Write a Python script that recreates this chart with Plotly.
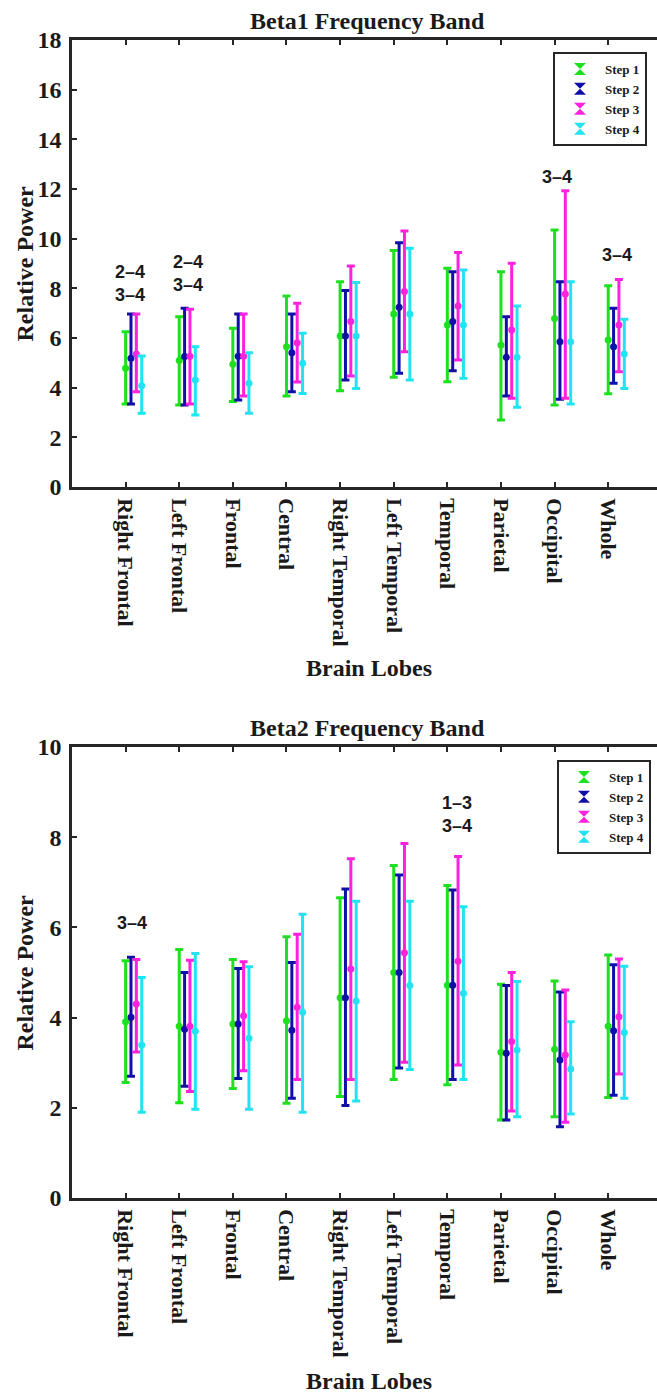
import plotly.graph_objects as go

categories = ["Right Frontal", "Left Frontal", "Frontal", "Central", "Right Temporal",
              "Left Temporal", "Temporal", "Parietal", "Occipital", "Whole"]
steps = ["Step 1", "Step 2", "Step 3", "Step 4"]

# ---- Beta1 band: mean, upper end, lower end of each error bar ----
b1_mean_s1 = [4.78, 5.09, 4.94, 5.65, 6.08, 6.97, 6.52, 5.72, 6.79, 5.92]
b1_hi_s1 = [6.25, 6.86, 6.39, 7.69, 8.27, 9.52, 8.81, 8.67, 10.35, 8.10]
b1_lo_s1 = [3.34, 3.30, 3.44, 3.66, 3.88, 4.42, 4.24, 2.70, 3.30, 3.75]

b1_mean_s2 = [5.18, 5.25, 5.27, 5.41, 6.08, 7.24, 6.66, 5.22, 5.85, 5.65]
b1_hi_s2 = [6.97, 7.20, 6.97, 6.97, 7.91, 9.84, 8.67, 6.86, 8.27, 7.20]
b1_lo_s2 = [3.34, 3.30, 3.50, 3.84, 4.31, 4.58, 4.68, 3.66, 3.53, 4.18]

b1_mean_s3 = [5.36, 5.27, 5.27, 5.81, 6.66, 7.87, 7.29, 6.32, 7.77, 6.52]
b1_hi_s3 = [6.97, 7.16, 6.97, 7.40, 8.90, 10.31, 9.44, 9.01, 11.93, 8.36]
b1_lo_s3 = [3.84, 3.34, 3.66, 4.23, 4.47, 5.45, 5.11, 3.57, 3.57, 4.64]

b1_mean_s4 = [4.08, 4.31, 4.18, 4.98, 6.08, 6.97, 6.52, 5.22, 5.85, 5.36]
b1_hi_s4 = [5.28, 5.65, 5.41, 6.19, 8.23, 9.61, 8.74, 7.29, 8.27, 6.75]
b1_lo_s4 = [2.97, 2.90, 2.97, 3.77, 3.97, 4.31, 4.38, 3.21, 3.34, 3.97]

# ---- Beta2 band ----
b2_mean_s1 = [3.91, 3.81, 3.86, 3.93, 4.44, 5.00, 4.72, 3.23, 3.30, 3.81]
b2_hi_s1 = [5.26, 5.51, 5.29, 5.79, 6.66, 7.37, 6.93, 4.74, 4.81, 5.39]
b2_lo_s1 = [2.56, 2.11, 2.43, 2.10, 2.25, 2.63, 2.51, 1.73, 1.80, 2.23]

b2_mean_s2 = [4.01, 3.74, 3.86, 3.72, 4.44, 5.00, 4.72, 3.21, 3.06, 3.71]
b2_hi_s2 = [5.34, 5.00, 5.09, 5.22, 6.85, 7.16, 6.83, 4.71, 4.57, 5.17]
b2_lo_s2 = [2.70, 2.48, 2.65, 2.21, 2.05, 2.88, 2.63, 1.73, 1.58, 2.28]

b2_mean_s3 = [4.30, 3.81, 4.04, 4.23, 5.08, 5.44, 5.25, 3.47, 3.17, 4.02]
b2_hi_s3 = [5.29, 5.27, 5.24, 5.85, 7.52, 7.86, 7.57, 5.00, 4.61, 5.30]
b2_lo_s3 = [3.24, 2.36, 2.82, 2.63, 2.63, 3.01, 2.95, 1.93, 1.68, 2.75]

b2_mean_s4 = [3.39, 3.70, 3.54, 4.12, 4.37, 4.71, 4.54, 3.28, 2.86, 3.67]
b2_hi_s4 = [4.89, 5.42, 5.13, 6.29, 6.58, 6.58, 6.46, 4.80, 3.91, 5.14]
b2_lo_s4 = [1.90, 1.97, 1.97, 1.90, 2.15, 2.85, 2.63, 1.80, 1.86, 2.21]

# significance labels (text, x in category units, y in relative power)
b1_sig_text = ["2–4<br>3–4", "2–4<br>3–4", "3–4", "3–4"]
b1_sig_x = [1.08, 2.16, 9.05, 10.17]
b1_sig_y = [8.18, 8.60, 12.48, 9.34]
b2_sig_text = ["3–4", "1–3<br>3–4"]
b2_sig_x = [1.11, 7.18]
b2_sig_y = [6.10, 8.50]

# ---- styling ----
colors = ["#1fe01f", "#1010a8", "#ff22dd", "#22e4f0"]
offsets = [0.0, 0.1, 0.2, 0.3]
SERIF = "Liberation Serif"
SANS = "Liberation Sans"
AX = "#262626"

W, H, ML = 657, 1396, 72
PW = W - ML


def px_x(px):
    return (px - ML) / PW


def px_y(py):
    return 1 - py / H


fig = go.Figure()

bands = [
    ("x", "y", "legend",
     [(b1_mean_s1, b1_hi_s1, b1_lo_s1), (b1_mean_s2, b1_hi_s2, b1_lo_s2),
      (b1_mean_s3, b1_hi_s3, b1_lo_s3), (b1_mean_s4, b1_hi_s4, b1_lo_s4)]),
    ("x2", "y2", "legend2",
     [(b2_mean_s1, b2_hi_s1, b2_lo_s1), (b2_mean_s2, b2_hi_s2, b2_lo_s2),
      (b2_mean_s3, b2_hi_s3, b2_lo_s3), (b2_mean_s4, b2_hi_s4, b2_lo_s4)]),
]

for xa, ya, lg, series in bands:
    for k, (mean, hi, lo) in enumerate(series):
        xs = [i + 1 + offsets[k] for i in range(len(categories))]
        fig.add_trace(go.Scatter(
            x=xs, y=mean, xaxis=xa, yaxis=ya, mode="markers",
            marker=dict(color=colors[k], size=7, symbol="circle"),
            error_y=dict(type="data", symmetric=False,
                         array=[h - m for h, m in zip(hi, mean)],
                         arrayminus=[m - l for m, l in zip(mean, lo)],
                         color=colors[k], thickness=3, width=4),
            showlegend=False, name=steps[k]))
    # legend entries
    for k in range(4):
        fig.add_trace(go.Scatter(
            x=[None], y=[None], xaxis=xa, yaxis=ya, mode="markers",
            marker=dict(color=colors[k], size=12, symbol="hourglass"),
            name=steps[k], legend=lg, showlegend=True))

xcommon = dict(range=[0, 10.91], tickmode="array",
               tickvals=list(range(1, 11)), ticktext=categories,
               tickangle=90, ticks="inside", ticklen=5, tickwidth=2, tickcolor=AX,
               showline=True, linewidth=2.5, linecolor=AX, mirror="ticks",
               showgrid=False, zeroline=False, automargin=False,
               ticklabelstandoff=4,
               tickfont=dict(family=SERIF, size=22, color="#1a1a1a", weight="bold"))
ycommon = dict(ticks="inside", ticklen=5, tickwidth=2, tickcolor=AX,
               showline=True, linewidth=2.5, linecolor=AX,
               showgrid=False, zeroline=False, automargin=False,
               ticklabelstandoff=3,
               tickfont=dict(family=SERIF, size=24, color="#1a1a1a", weight="bold"))

legend_font = dict(family=SERIF, size=13, color="#1a1a1a", weight="bold")
fig.update_layout(
    width=W, height=H,
    margin=dict(l=ML, r=0, t=0, b=0),
    paper_bgcolor="white", plot_bgcolor="white",
    xaxis=dict(xcommon, domain=[0, 1], anchor="y"),
    yaxis=dict(ycommon, domain=[px_y(487), px_y(40)], range=[0, 18], dtick=2, anchor="x"),
    xaxis2=dict(xcommon, domain=[0, 1], anchor="y2"),
    yaxis2=dict(ycommon, domain=[px_y(1198), px_y(747)], range=[0, 10], dtick=2, anchor="x2"),
    legend=dict(x=px_x(553), y=px_y(52), xanchor="left", yanchor="top",
                bordercolor=AX, borderwidth=2, bgcolor="white", itemwidth=40,
                font=legend_font),
    legend2=dict(x=px_x(557), y=px_y(760), xanchor="left", yanchor="top",
                 bordercolor=AX, borderwidth=2, bgcolor="white", itemwidth=40,
                 font=legend_font),
)

ann = []
# titles, axis titles
for txt, cx, cy, ang in [
    ("Beta1 Frequency Band", 367, 21, 0),
    ("Beta2 Frequency Band", 367, 728, 0),
    ("Brain Lobes", 369, 668, 0),
    ("Brain Lobes", 369, 1381, 0),
    ("Relative Power", 24, 263.5, -90),
    ("Relative Power", 24, 972.5, -90),
]:
    ann.append(dict(text=txt, x=px_x(cx), y=px_y(cy), xref="paper", yref="paper",
                    xanchor="center", yanchor="middle", showarrow=False, textangle=ang,
                    font=dict(family=SERIF, size=24, color="#1a1a1a", weight="bold")))

for texts, xs, ys, xr, yr in [(b1_sig_text, b1_sig_x, b1_sig_y, "x", "y"),
                              (b2_sig_text, b2_sig_x, b2_sig_y, "x2", "y2")]:
    for t, x, y in zip(texts, xs, ys):
        ann.append(dict(text=t, x=x, y=y, xref=xr, yref=yr, showarrow=False,
                        xanchor="center", yanchor="middle",
                        font=dict(family=SANS, size=18, color="#1a1a1a", weight="bold")))

fig.update_layout(annotations=ann)
fig.write_html("out.html")
